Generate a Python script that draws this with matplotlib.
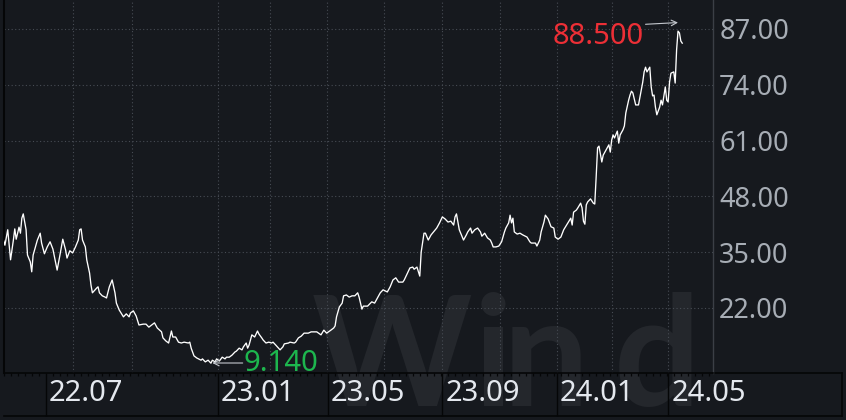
"""Price chart (dark theme) with max/min markers and a faint watermark."""
import matplotlib
matplotlib.use('Agg')
import matplotlib.pyplot as plt
from matplotlib.ticker import MultipleLocator, FixedLocator
from matplotlib.transforms import ScaledTranslation

# trading-day index and close values
DAYS = [0, 1, 3, 5, 7, 8, 9, 11, 12, 13, 14, 16, 17, 19, 20, 21, 24, 26, 27, 29,
        31, 33, 35, 38, 40, 42, 44, 45, 47, 49, 51, 53, 54, 55, 56, 58, 59, 61, 62, 63,
        66, 67, 68, 70, 72, 73, 75, 77, 79, 80, 82, 85, 87, 89, 90, 92, 94, 96, 99, 101,
        103, 105, 107, 109, 112, 113, 115, 117, 119, 120, 122, 124, 126, 128, 131, 132, 133, 135, 137, 140,
        141, 143, 145, 147, 148, 150, 151, 153, 155, 157, 158, 160, 162, 164, 165, 167, 169, 170, 172, 173,
        174, 176, 178, 180, 181, 183, 184, 186, 188, 190, 191, 193, 196, 198, 199, 202, 203, 206, 207, 209,
        211, 213, 216, 218, 222, 225, 227, 229, 232, 234, 235, 236, 238, 240, 241, 243, 245, 247, 249, 251,
        252, 254, 255, 258, 261, 263, 265, 267, 269, 272, 274, 276, 278, 280, 283, 284, 286, 288, 290, 291,
        293, 295, 296, 298, 299, 301, 303, 304, 306, 307, 309, 311, 313, 315, 317, 319, 320, 321, 322, 323,
        326, 328, 329, 331, 332, 334, 336, 338, 339, 341, 343, 345, 346, 347, 349, 351, 353, 355, 356, 358,
        359, 360, 361, 362, 364, 366, 368, 371, 373, 374, 377, 378, 380, 381, 383, 384, 386, 388, 390, 391,
        393, 395, 397, 399, 400, 402, 403, 404, 406, 407, 409, 410, 411, 412, 413, 414, 416, 418, 419, 420,
        421, 422, 424, 425, 427, 429, 430, 431, 432, 433, 435, 436, 437, 439, 440, 441, 443, 444, 445, 446,
        448, 450, 452, 453, 454, 455, 456, 458, 459, 460, 461, 462, 463, 465, 466, 467, 469, 470, 471, 472,
        473, 475, 476, 477, 478, 479, 480, 481]
CLOSE = [37.8, 36.6, 40.2, 33.2, 37.8, 40.4, 38.0, 40.8, 39.4, 42.9, 43.9, 40.2, 34.3, 32.7, 30.4, 34.3, 37.8, 39.4, 37.1, 34.6,
         36.2, 37.4, 35.7, 30.8, 34.3, 38.0, 35.5, 33.6, 35.3, 34.8, 36.2, 37.8, 40.2, 40.4, 37.8, 36.2, 33.2, 30.1, 27.3, 25.5,
         26.6, 26.9, 25.5, 24.8, 24.5, 24.3, 26.9, 28.5, 25.5, 23.1, 21.5, 19.9, 20.6, 19.9, 20.8, 21.3, 20.1, 18.0, 18.2, 18.2,
         17.5, 18.0, 18.5, 17.3, 16.4, 15.0, 14.3, 13.8, 16.6, 15.2, 15.2, 14.0, 13.8, 14.0, 13.8, 14.0, 12.6, 10.8, 10.3, 9.8,
         10.1, 9.4, 9.8, 9.1, 9.8, 9.4, 10.1, 9.6, 10.5, 10.1, 10.5, 10.5, 11.0, 11.7, 11.9, 12.6, 12.2, 12.9, 13.8, 12.6,
         13.3, 15.7, 15.2, 16.6, 15.9, 15.0, 14.5, 13.8, 14.0, 13.8, 14.0, 13.3, 12.2, 12.9, 13.6, 13.8, 14.0, 13.8, 14.0, 15.0,
         15.4, 16.1, 16.1, 16.4, 16.4, 15.7, 16.8, 16.1, 16.8, 17.3, 17.8, 19.9, 22.2, 23.1, 24.8, 25.0, 24.5, 24.8, 24.8, 25.5,
         24.5, 21.7, 22.4, 22.4, 23.4, 23.1, 24.3, 25.5, 26.2, 25.7, 26.9, 28.5, 29.0, 28.0, 28.0, 28.5, 29.9, 31.3, 31.5, 31.0,
         31.5, 29.4, 35.0, 39.4, 39.4, 37.8, 39.0, 39.4, 40.2, 40.6, 41.8, 43.2, 42.7, 42.0, 42.2, 41.3, 43.2, 43.9, 42.0, 40.2,
         37.8, 39.0, 39.7, 40.6, 39.4, 40.2, 40.6, 39.7, 38.7, 39.4, 38.3, 37.8, 37.1, 36.2, 36.2, 36.4, 37.4, 39.7, 40.6, 41.8,
         43.6, 41.8, 42.9, 39.7, 39.2, 39.4, 39.0, 38.5, 37.4, 37.1, 37.1, 36.4, 37.8, 39.7, 42.0, 43.6, 42.7, 40.9, 40.6, 38.5,
         38.0, 38.5, 40.2, 41.3, 41.8, 42.9, 41.3, 44.3, 44.8, 45.3, 46.4, 45.3, 42.2, 41.5, 46.0, 46.7, 47.4, 46.4, 46.2, 52.5,
         59.3, 59.7, 56.0, 57.6, 58.8, 60.0, 58.3, 61.1, 62.3, 61.6, 63.2, 60.4, 62.3, 63.5, 64.4, 67.4, 70.4, 71.6, 72.5, 72.1,
         69.3, 69.3, 72.8, 74.6, 77.0, 78.1, 77.0, 78.1, 73.5, 71.4, 71.6, 68.8, 67.0, 68.8, 70.4, 69.3, 73.5, 70.4, 70.0, 74.6,
         76.7, 77.0, 74.4, 82.1, 86.5, 86.1, 84.2, 83.7]

# period extremes (labels)
HIGH_DAY, HIGH_VAL = 478, 88.5
LOW_DAY, LOW_VAL = 148, 9.14

YTICKS = [22, 35, 48, 61, 74, 87]
XTICK_POS = [30, 152, 230, 311, 392, 471]
XTICK_LABELS = ['22.07', '23.01', '23.05', '23.09', '24.01', '24.05']
GRID_X = [49, 91, 152, 189, 229, 270, 311, 352, 392, 431, 471]

BG = '#16191e'
W, H = 846, 420
FONT = ['Noto Sans', 'DejaVu Sans']


def px(v, total):
    return v / total


def main():
    plt.rcParams['font.family'] = FONT
    fig = plt.figure(figsize=(W / 100, H / 100), dpi=100, facecolor=BG)

    # background layer: watermark + panel frame
    bg = fig.add_axes([0, 0, 1, 1], zorder=0)
    bg.set_xlim(0, 1)
    bg.set_ylim(0, 1)
    bg.axis('off')
    # watermark letters are spaced out like the logo, so place them one by one
    mark = dict(fontsize=110, fontweight='bold', family='Lato', color='#24272c',
                ha='left', va='baseline')
    for ch, left in (('W', 312), ('i', 474), ('n', 503), ('d', 614)):
        bg.text(px(left, W), px(H - 406, H), ch, **mark)
    edge = '#050607'
    bg.plot([px(3.5, W), px(842, W)], [px(H - 416, H)] * 2, color=edge, lw=1.2)
    bg.plot([px(842, W)] * 2, [px(H - 416, H), px(H - 373, H)], color=edge, lw=1.2)
    bg.plot([px(713, W), px(842, W)], [px(H - 373, H)] * 2, color=edge, lw=1.2)

    ax = fig.add_axes([px(3.5, W), px(H - 373, H), px(709.5, W), px(373, H)], zorder=1)
    ax.set_facecolor('none')
    ax.set_xlim(0, 502.8)
    ax.set_ylim(6.81, 93.76)

    ax.spines['top'].set_visible(False)
    ax.spines['left'].set_color(edge)
    ax.spines['left'].set_linewidth(1.5)
    ax.spines['bottom'].set_color(edge)
    ax.spines['bottom'].set_linewidth(1.2)
    ax.spines['right'].set_color('#3b3f46')
    ax.spines['right'].set_linewidth(1)

    grid_kw = dict(color='#474c54', linestyle=(0, (1, 2.2)), linewidth=0.8, zorder=1)
    for g in GRID_X:
        ax.axvline(g, **grid_kw)
    for y in YTICKS:
        ax.axhline(y, **grid_kw)

    ax.plot(DAYS, CLOSE, color='white', linewidth=0.95, zorder=3)

    # y axis on the right
    ax.yaxis.tick_right()
    ax.set_yticks(YTICKS)
    ax.set_yticklabels([f'{v:.2f}' for v in YTICKS])
    ax.tick_params(axis='y', length=0, pad=4.5, labelsize=19.5, labelcolor='#a7adb5')

    # x axis: long separators into the date strip, weekly minor ticks
    ax.xaxis.set_major_locator(FixedLocator(XTICK_POS))
    ax.set_xticklabels(XTICK_LABELS)
    ax.xaxis.set_minor_locator(MultipleLocator(5))
    ax.tick_params(axis='x', which='major', direction='out', length=31, width=1,
                   color=edge, pad=-16.5, labelsize=21, labelcolor='#e4e8ee')
    ax.tick_params(axis='x', which='minor', direction='out', length=2.3, width=0.9, color=edge)
    shift = ScaledTranslation(3 / 100, 0, fig.dpi_scale_trans)
    for lab in ax.get_xticklabels():
        lab.set_horizontalalignment('left')
        lab.set_verticalalignment('center')
        lab.set_transform(lab.get_transform() + shift)

    # extreme markers
    arrow = dict(arrowstyle='->', color='#c4c8ce', lw=0.8, shrinkA=0, shrinkB=0)
    ax.annotate('', xy=(HIGH_DAY, HIGH_VAL), xytext=(455, 88.1), arrowprops=arrow, zorder=4)
    ax.text(453.5, 85.3, f'{HIGH_VAL:.3f}', color='#ec2f36', fontsize=21,
            ha='right', va='center', zorder=4)
    ax.annotate('', xy=(LOW_DAY, LOW_VAL), xytext=(169.5, LOW_VAL), arrowprops=arrow, zorder=4)
    ax.text(170, LOW_VAL, f'{LOW_VAL:.3f}', color='#1db64e', fontsize=21,
            ha='left', va='center', zorder=4)

    fig.savefig('out.png', dpi=100, facecolor=BG)
    plt.close(fig)


if __name__ == '__main__':
    main()
